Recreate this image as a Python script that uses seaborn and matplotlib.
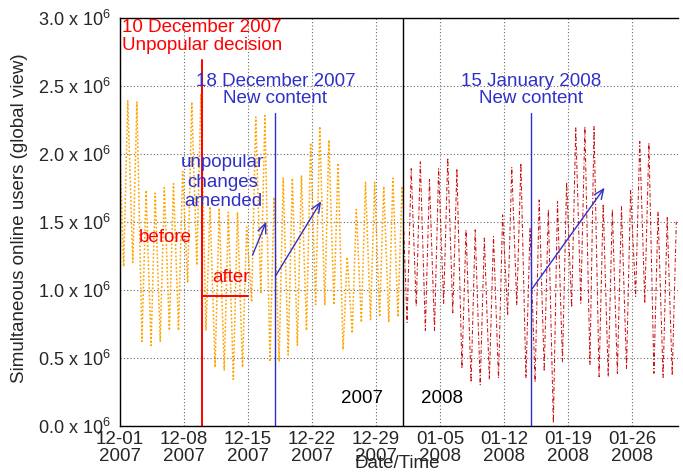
import matplotlib
matplotlib.use("Agg")
import matplotlib.pyplot as plt
import numpy as np
import pandas as pd
import seaborn as sns

# Daily extremes of simultaneous online users (millions), December 2007
dec_troughs = [1.17, 1.20, 0.62, 0.59, 0.62, 0.70, 0.70, 1.05, 1.18, 0.70,
               0.43, 0.41, 0.34, 0.43, 0.91, 0.97, 0.47, 0.47, 0.52, 0.59,
               0.70, 0.89, 0.89, 0.89, 0.56, 0.68, 0.76, 0.78, 0.80, 0.76, 0.80]
dec_peaks = [2.39, 2.38, 1.73, 1.71, 1.75, 1.78, 1.87, 2.38, 2.44, 1.61,
             1.60, 1.57, 1.57, 1.46, 2.27, 2.28, 1.68, 1.82, 1.82, 1.84,
             2.08, 2.20, 2.10, 1.93, 1.24, 1.59, 1.79, 1.79, 1.76, 1.82, 1.76]
dec_first, dec_last = 2.00, 1.60

# Daily extremes, January 2008 (the 17th includes a server outage)
jan_troughs = [0.76, 0.88, 0.70, 0.70, 0.90, 0.83, 0.42, 0.32, 0.30, 0.34,
               0.35, 0.81, 0.89, 0.35, 0.32, 0.40, 0.02, 0.47, 0.87, 0.90,
               0.45, 0.36, 0.36, 0.385, 0.42, 0.95, 0.90, 0.385, 0.355, 0.37]
jan_peaks = [1.89, 1.94, 1.81, 1.89, 1.97, 1.89, 1.44, 1.44, 1.38, 1.39,
             1.55, 1.90, 1.93, 1.45, 1.66, 1.59, 1.65, 1.79, 2.19, 2.20,
             2.20, 1.63, 1.59, 1.61, 1.73, 2.09, 2.08, 1.57, 1.53, 1.50]
jan_first = 1.50

x_tick_labels = ["12-01\n2007", "12-08\n2007", "12-15\n2007", "12-22\n2007",
                 "12-29\n2007", "01-05\n2008", "01-12\n2008", "01-19\n2008",
                 "01-26\n2008"]
y_tick_values = [0.0, 0.5, 1.0, 1.5, 2.0, 2.5, 3.0]

# event markers (day offsets from 1 Dec 2007, values in millions)
decision_day, content_day_1, content_day_2, new_year_day = 9, 17, 45, 31
after_level = 0.955


def daily_zigzag(first_day, first_val, troughs, peaks, last_val=None):
    days, vals = [first_day], [first_val]
    for i, (lo, hi) in enumerate(zip(troughs, peaks)):
        days += [first_day + i + 0.4, first_day + i + 0.85]
        vals += [lo, hi]
    if last_val is not None:
        days.append(first_day + len(peaks))
        vals.append(last_val)
    return pd.DataFrame({"day": days, "users": np.array(vals) * 1e6})


dec_df = daily_zigzag(0, dec_first, dec_troughs, dec_peaks, dec_last)
jan_df = daily_zigzag(new_year_day, jan_first, jan_troughs, jan_peaks)

sns.set_style("white")
plt.rcParams["font.family"] = ["Liberation Sans", "DejaVu Sans"]
plt.rcParams["mathtext.fontset"] = "custom"
plt.rcParams["mathtext.rm"] = "Liberation Sans"

RED = "#ff0000"
BLUE = "#3030c8"
FS = 13.5

fig = plt.figure(figsize=(6.83, 4.72), dpi=100)
ax = fig.add_axes([120 / 683, 1 - 425.7 / 472, 557.7 / 683, 408 / 472])

sns.lineplot(data=dec_df, x="day", y="users", ax=ax, color="#ffa500",
             lw=1.1, linestyle=(0, (1.2, 1.3)), estimator=None, sort=False)
sns.lineplot(data=jan_df, x="day", y="users", ax=ax, color="#cc1010",
             lw=0.75, linestyle=(0, (4, 2, 1, 2)), estimator=None, sort=False)

ax.set_xlim(0, 61)
ax.set_ylim(0, 3.0e6)

ax.set_xticks([7 * i for i in range(len(x_tick_labels))])
ax.set_xticklabels(x_tick_labels, fontsize=FS, linespacing=1.0)
ax.set_xticks(np.arange(0, 61), minor=True)
ax.set_yticks([v * 1e6 for v in y_tick_values])
ax.set_yticklabels([f"{v:.1f} x 10$\\mathregular{{^{{6}}}}$" for v in y_tick_values],
                   fontsize=13)
ax.tick_params(axis="x", which="major", direction="in", length=5, width=0.8,
               pad=4, top=False)
ax.tick_params(axis="x", which="minor", direction="in", length=3, width=0.8,
               top=False)
ax.tick_params(axis="y", direction="in", length=4, width=0.8, pad=7,
               right=False)
ax.grid(True, which="major", color="#6a6a6a", linestyle=(0, (1, 2)), lw=0.8)
for side in ("left", "bottom", "top"):
    ax.spines[side].set_color("black")
    ax.spines[side].set_linewidth(1.0)
ax.spines["right"].set_visible(False)
ax.set_xlabel("")
ax.set_ylabel("")

# event lines
ax.plot([decision_day, decision_day], [0, 2.69e6], color=RED, lw=1.4)
ax.plot([decision_day, 14], [after_level * 1e6] * 2, color=RED, lw=1.4)
ax.plot([content_day_1, content_day_1], [0, 2.30e6], color=BLUE, lw=1.0)
ax.plot([content_day_2, content_day_2], [0, 2.30e6], color=BLUE, lw=1.0)
ax.plot([new_year_day, new_year_day], [0, 3.0e6], color="black", lw=1.0)

# labels
ax.text(0.19, 2.897e6, "10 December 2007", color=RED, fontsize=FS,
        ha="left", va="baseline")
ax.text(0.19, 2.762e6, "Unpopular decision", color=RED, fontsize=FS,
        ha="left", va="baseline")
for d, txt in ((content_day_1, "18 December 2007"), (content_day_2, "15 January 2008")):
    ax.text(d, 2.497e6, txt, color=BLUE, fontsize=FS, ha="center", va="baseline")
    ax.text(d, 2.371e6, "New content", color=BLUE, fontsize=FS, ha="center",
            va="baseline")
for yv, txt in ((1.904e6, "unpopular"), (1.757e6, "changes"), (1.618e6, "amended")):
    ax.text(11.25, yv, txt, color=BLUE, fontsize=FS, ha="center", va="baseline")
ax.text(5.0, 1.353e6, "before", color=RED, fontsize=FS, ha="center", va="baseline")
ax.text(12.1, 1.059e6, "after", color=RED, fontsize=FS, ha="center", va="baseline")
ax.text(26.5, 0.165e6, "2007", color="black", fontsize=FS, ha="center", va="baseline")
ax.text(35.17, 0.165e6, "2008", color="black", fontsize=FS, ha="center", va="baseline")

arrow_kw = dict(arrowstyle="->,head_length=0.7,head_width=0.3", color=BLUE,
                lw=1.0, shrinkA=0, shrinkB=0)
for (x0, y0), (x1, y1) in (((14.5, 1.255), (16.0, 1.5)),
                           ((17.0, 1.10), (22.0, 1.65)),
                           ((45.0, 1.00), (53.0, 1.75))):
    ax.annotate("", xy=(x1, y1 * 1e6), xytext=(x0, y0 * 1e6), arrowprops=arrow_kw)

fig.text(20 / 683, 1 - 218.5 / 472, "Simultaneous online users (global view)",
         rotation=90, ha="center", va="center", fontsize=FS)
fig.text(397 / 683, 1 - 468 / 472, "Date/Time", ha="center", va="baseline",
         fontsize=FS)

fig.savefig("out.png", dpi=100)
